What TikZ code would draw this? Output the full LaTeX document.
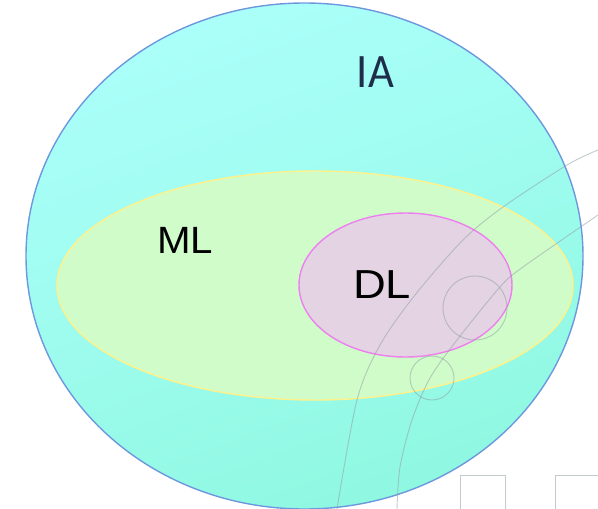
\documentclass[tikz,border=0pt]{standalone}
\usepackage{fontspec}
\setmainfont{Carlito}
\newfontfamily\setfont{Liberation Sans}
\usepackage{xcolor}
\usetikzlibrary{positioning}

\definecolor{iaedge}{HTML}{6E98DE}
\definecolor{iatop}{HTML}{ABFFFA}
\definecolor{iabot}{HTML}{8FF8E1}
\definecolor{mledge}{HTML}{FFF28A}
\definecolor{mlfill}{HTML}{D0FCCA}
\definecolor{dledge}{HTML}{EE7FEE}
\definecolor{dlfill}{HTML}{E3D3E3}
\definecolor{iatext}{HTML}{1E2E4A}
\definecolor{faint}{HTML}{93A0A4}

\begin{document}
\begin{tikzpicture}[x=1pt,y=-1pt]
        \tikzset{
          set/.style={line width=1.4pt},
          lbl/.style={draw=none, fill=none, inner sep=0pt, anchor=center},
          bg/.style={faint, line width=0.9pt, opacity=0.55}
        }
        \useasboundingbox (0,0) rectangle (598,509);

        % — IA: outer set —
        \shade[top color=iatop, bottom color=iabot, shading angle=20]
          (304.5,256) ellipse [x radius=278.5, y radius=253];
        \draw[set, iaedge] (304.5,256) ellipse [x radius=278.5, y radius=253];

        % — ML inside IA —
        \draw[set, mledge, fill=mlfill] (315,285.5) ellipse [x radius=258, y radius=114.5];

        % — DL inside ML —
        \draw[set, dledge, fill=dlfill] (405.5,285) ellipse [x radius=106.5, y radius=72];

        % — faint background arcs and squares —
        \draw[bg] plot[smooth] coordinates {(598,150) (567,165) (503,207) (463,240) (415,295) (380,345) (357,400) (337,509)};
        \draw[bg] plot[smooth] coordinates {(598,215) (523,267) (500,287) (457,340) (430,378) (412,420) (400,467) (397,509)};
        \draw[bg] (475,308) circle (32);
        \draw[bg] (432,378) circle (22);
        \draw[bg] (460,509) -- (460,475) -- (505,475) -- (505,509);
        \draw[bg] (555,509) -- (555,475) -- (598,475);

        % — labels —
        \node[lbl, text=iatext, font=\fontsize{48}{54}\selectfont, xscale=0.93] (ia) at (375.5,72.5) {IA};
        \node[lbl, text=black, font=\setfont\fontsize{38}{44}\selectfont, xscale=1.06] (ml) at (185,240.5) {ML};
        \node[lbl, text=black, font=\setfont\fontsize{40.5}{46}\selectfont, xscale=1.12] (dl) at (382,284.5) {DL};
\end{tikzpicture}
\end{document}
